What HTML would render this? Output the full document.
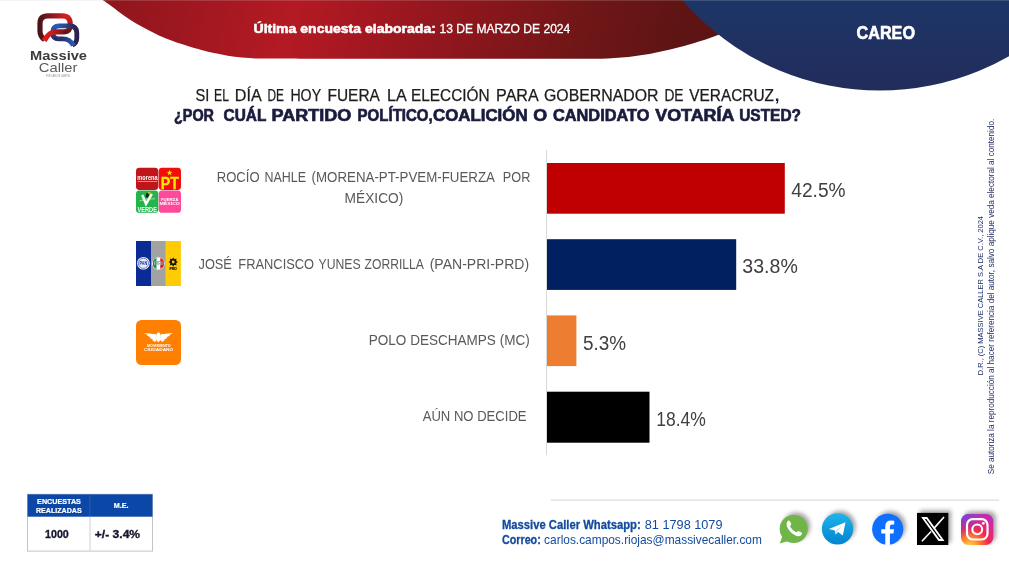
<!DOCTYPE html>
<html lang="es">
<head>
<meta charset="utf-8">
<title>Massive Caller - Careo Veracruz</title>
<style>
html,body{margin:0;padding:0;background:#fff;}
body{width:1009px;height:574px;overflow:hidden;font-family:"Liberation Sans", sans-serif;}
svg{display:block;}
text{font-family:"Liberation Sans", sans-serif;}
.lbl{fill:#595959;font-size:14.3px;}
.val{fill:#404040;font-size:19.6px;}
.ft{fill:#134a9e;font-size:12.6px;}
.vt{fill:#1f2d66;}
</style>
</head>
<body>
<svg width="1009" height="574" viewBox="0 0 1009 574">
<defs>
  <linearGradient id="gred" gradientUnits="userSpaceOnUse" x1="100" y1="-60" x2="760" y2="120">
    <stop offset="0" stop-color="#8c151b"/>
    <stop offset="0.14" stop-color="#9d1720"/>
    <stop offset="0.30" stop-color="#b41a23"/>
    <stop offset="0.43" stop-color="#a01720"/>
    <stop offset="0.64" stop-color="#7d161a"/>
    <stop offset="0.72" stop-color="#6f1617"/>
    <stop offset="0.85" stop-color="#5f1414"/>
    <stop offset="1" stop-color="#521212"/>
  </linearGradient>
  <linearGradient id="gblue" gradientUnits="userSpaceOnUse" x1="0" y1="0" x2="0" y2="91">
    <stop offset="0" stop-color="#1d3667"/>
    <stop offset="1" stop-color="#222c5b"/>
  </linearGradient>
  <linearGradient id="gtg" x1="0" y1="0" x2="0" y2="1">
    <stop offset="0" stop-color="#1fb4ea"/>
    <stop offset="1" stop-color="#0284d0"/>
  </linearGradient>
  <linearGradient id="lgr" gradientUnits="userSpaceOnUse" x1="38" y1="0" x2="72" y2="0">
    <stop offset="0" stop-color="#45121a"/>
    <stop offset="0.4" stop-color="#8a191c"/>
    <stop offset="0.8" stop-color="#d41f1f"/>
    <stop offset="1" stop-color="#d41f1f"/>
  </linearGradient>
  <linearGradient id="lgr3" gradientUnits="userSpaceOnUse" x1="0" y1="16" x2="0" y2="33">
    <stop offset="0" stop-color="#d41f1f"/>
    <stop offset="0.45" stop-color="#b01a1c"/>
    <stop offset="1" stop-color="#5a1416"/>
  </linearGradient>
  <linearGradient id="lgb3" gradientUnits="userSpaceOnUse" x1="0" y1="25" x2="0" y2="40">
    <stop offset="0" stop-color="#2e5cba"/>
    <stop offset="0.5" stop-color="#2b4594"/>
    <stop offset="1" stop-color="#22285a"/>
  </linearGradient>
  <linearGradient id="lgr2" gradientUnits="userSpaceOnUse" x1="44" y1="0" x2="68" y2="0">
    <stop offset="0" stop-color="#e0201c"/>
    <stop offset="0.35" stop-color="#c41c1c"/>
    <stop offset="1" stop-color="#5a1416"/>
  </linearGradient>
  <linearGradient id="lgb" gradientUnits="userSpaceOnUse" x1="51" y1="0" x2="79" y2="0">
    <stop offset="0" stop-color="#2e5cba"/>
    <stop offset="0.45" stop-color="#2c4a9c"/>
    <stop offset="0.85" stop-color="#2b2555"/>
    <stop offset="1" stop-color="#2a2048"/>
  </linearGradient>
  <linearGradient id="lgb2" gradientUnits="userSpaceOnUse" x1="56" y1="0" x2="74" y2="0">
    <stop offset="0" stop-color="#22285a"/>
    <stop offset="0.5" stop-color="#273a80"/>
    <stop offset="1" stop-color="#2e5cba"/>
  </linearGradient>
  <radialGradient id="gig" cx="0.27" cy="1.05" r="1.25">
    <stop offset="0" stop-color="#ffd650"/>
    <stop offset="0.22" stop-color="#ff8c28"/>
    <stop offset="0.48" stop-color="#f2274e"/>
    <stop offset="0.78" stop-color="#d128a4"/>
    <stop offset="1" stop-color="#b52cc0"/>
  </radialGradient>
  <radialGradient id="gig2" cx="0" cy="0" r="0.75">
    <stop offset="0" stop-color="#5a4fe0" stop-opacity="0.95"/>
    <stop offset="1" stop-color="#8a3ad0" stop-opacity="0"/>
  </radialGradient>
  <filter id="sh" x="-30%" y="-30%" width="170%" height="170%">
    <feGaussianBlur stdDeviation="1.9"/>
  </filter>
</defs>

<!-- header shapes -->
<path d="M102.7,0.0 C104.2,1.1 108.4,3.9 111.9,6.5 C115.4,9.1 119.8,12.7 123.8,15.5 C127.8,18.3 131.7,20.8 135.7,23.2 C139.7,25.6 143.6,27.6 147.6,29.7 C151.6,31.8 155.5,33.9 159.5,35.7 C163.5,37.5 167.4,38.9 171.4,40.4 C175.4,41.9 179.4,43.3 183.3,44.6 C187.2,45.9 191.2,47.1 195.1,48.2 C199.0,49.3 203.9,50.6 207.0,51.4 C210.1,52.2 210.4,52.3 213.9,53.0 C217.4,53.7 223.2,55.0 227.8,55.8 C232.4,56.5 237.0,57.1 241.6,57.5 C246.2,57.9 251.8,58.2 255.5,58.4 C259.2,58.6 256.6,58.6 264.0,58.6 C271.4,58.7 277.3,58.7 300.0,58.7 C322.7,58.7 366.7,58.7 400.0,58.7 C433.3,58.7 470.0,58.7 500.0,58.7 C530.0,58.7 564.4,58.7 580.0,58.7 C595.6,58.7 589.3,58.8 593.9,58.7 C598.5,58.7 603.2,58.6 607.8,58.4 C612.4,58.2 617.0,57.9 621.6,57.5 C626.2,57.1 630.9,56.5 635.5,55.9 C640.1,55.3 644.8,54.7 649.4,53.9 C654.0,53.1 658.7,52.1 663.3,51.1 C667.9,50.1 672.5,49.0 677.1,47.8 C681.7,46.6 686.4,45.2 691.0,43.9 C695.6,42.5 700.6,41.1 704.9,39.7 C709.2,38.3 711.7,37.6 716.7,35.6 C721.7,33.6 727.8,31.3 735.0,28.0 C742.2,24.7 750.8,20.7 760.0,16.0 C769.2,11.3 785.0,2.7 790.0,0.0 Z" fill="url(#gred)"/>
<circle cx="879.7" cy="-169.8" r="260.4" fill="url(#gblue)"/>
<rect x="0" y="0" width="1009" height="1" fill="#c8c8c8" fill-opacity="0.2"/>

<text x="253.5" y="32.7" font-size="13.4" fill="#fff" font-weight="bold" stroke="#fff" stroke-width="0.55" textLength="182.4" lengthAdjust="spacingAndGlyphs">Última encuesta elaborada:</text>
<text x="439.5" y="32.7" font-size="13.6" fill="#fff" stroke="#fff" stroke-width="0.3" textLength="130.8" lengthAdjust="spacingAndGlyphs">13 DE MARZO DE 2024</text>
<text x="856.5" y="38.5" font-size="17.5" fill="#fff" font-weight="bold" stroke="#fff" stroke-width="0.6" textLength="58.5" lengthAdjust="spacingAndGlyphs">CAREO</text>

<!-- logo -->
<g fill="none" stroke-linejoin="round" stroke-linecap="butt">
  <path d="M44.500,39.500 C41.500,37.500 40,35.500 40,31 L40,23.500 C40,18.500 42.500,15.800 48,15.800 L62.500,15.800 C65,15.800 66.900,16.500 68.200,17.800" stroke="url(#lgr)" stroke-width="5.2"/>
  <path d="M67.800,17.400 C69.400,18.800 70.200,20.800 70.200,23.500 L70.200,25 C70.200,29 68.500,31.800 64,31.800" stroke="url(#lgr3)" stroke-width="5.2"/>
  <path d="M58.800,38.800 C54.500,38.800 52.800,36.500 52.800,33 L52.800,32 C52.800,28 55,25.800 59.300,25.800" stroke="url(#lgb3)" stroke-width="4.8"/>
  <path d="M59,25.800 L69.500,25.800 C74.500,25.800 76.800,28.500 76.800,33 L76.800,38 C76.800,42 75,43.800 72.300,45" stroke="url(#lgb)" stroke-width="4.8"/>
  <path d="M73.300,45.500 C70.800,40.400 67.500,38.800 63,38.800 L58.500,38.800" stroke="url(#lgb2)" stroke-width="4.8"/>
  <path d="M44.300,40.800 C48,34 51,31.800 57,31.800 L64.200,31.800" stroke="url(#lgr2)" stroke-width="5.2"/>
</g>
<text x="30" y="60.4" font-size="13.2" font-weight="bold" fill="#3c3c3c" textLength="57" lengthAdjust="spacingAndGlyphs">Massive</text>
<text x="38.8" y="72.1" font-size="13.2" fill="#5a5a5a" textLength="38.6" lengthAdjust="spacingAndGlyphs">Caller</text>
<text x="46" y="76.6" font-size="2.6" fill="#8a8a8a" textLength="24" lengthAdjust="spacingAndGlyphs">POR CARLOS CAMPOS</text>

<!-- question -->
<text x="195.6" y="101.2" font-size="15.9" fill="#1c1c1c" stroke="#1c1c1c" stroke-width="0.25" textLength="13.8" lengthAdjust="spacingAndGlyphs">SI</text>
<text x="214.1" y="101.2" font-size="15.9" fill="#1c1c1c" stroke="#1c1c1c" stroke-width="0.25" textLength="14.9" lengthAdjust="spacingAndGlyphs">EL</text>
<text x="234.8" y="101.2" font-size="15.9" fill="#1c1c1c" stroke="#1c1c1c" stroke-width="0.25" textLength="26.9" lengthAdjust="spacingAndGlyphs">DÍA</text>
<text x="267.5" y="101.2" font-size="15.9" fill="#1c1c1c" stroke="#1c1c1c" stroke-width="0.25" textLength="16.5" lengthAdjust="spacingAndGlyphs">DE</text>
<text x="290.4" y="101.2" font-size="15.9" fill="#1c1c1c" stroke="#1c1c1c" stroke-width="0.25" textLength="30.7" lengthAdjust="spacingAndGlyphs">HOY</text>
<text x="327.5" y="101.2" font-size="15.9" fill="#1c1c1c" stroke="#1c1c1c" stroke-width="0.25" textLength="52.4" lengthAdjust="spacingAndGlyphs">FUERA</text>
<text x="387.0" y="101.2" font-size="15.9" fill="#1c1c1c" stroke="#1c1c1c" stroke-width="0.25" textLength="19.8" lengthAdjust="spacingAndGlyphs">LA</text>
<text x="411.0" y="101.2" font-size="15.9" fill="#1c1c1c" stroke="#1c1c1c" stroke-width="0.25" textLength="78.6" lengthAdjust="spacingAndGlyphs">ELECCIÓN</text>
<text x="496.1" y="101.2" font-size="15.9" fill="#1c1c1c" stroke="#1c1c1c" stroke-width="0.25" textLength="42.6" lengthAdjust="spacingAndGlyphs">PARA</text>
<text x="544.0" y="101.2" font-size="15.9" fill="#1c1c1c" stroke="#1c1c1c" stroke-width="0.25" textLength="114.4" lengthAdjust="spacingAndGlyphs">GOBERNADOR</text>
<text x="664.4" y="101.2" font-size="15.9" fill="#1c1c1c" stroke="#1c1c1c" stroke-width="0.25" textLength="19.1" lengthAdjust="spacingAndGlyphs">DE</text>
<text x="689.2" y="101.2" font-size="15.9" fill="#1c1c1c" stroke="#1c1c1c" stroke-width="0.25" textLength="84.8" lengthAdjust="spacingAndGlyphs">VERACRUZ</text>
<text x="774.8" y="101.2" font-size="15.9" font-weight="bold" fill="#1a1c3d" textLength="4.7" lengthAdjust="spacingAndGlyphs">,</text>
<text x="174.0" y="121.3" font-size="15.8" font-weight="bold" fill="#1a1c3d" stroke="#1a1c3d" stroke-width="0.65" textLength="40.0" lengthAdjust="spacingAndGlyphs">¿POR</text>
<text x="223.5" y="121.3" font-size="15.8" font-weight="bold" fill="#1a1c3d" stroke="#1a1c3d" stroke-width="0.65" textLength="42.8" lengthAdjust="spacingAndGlyphs">CUÁL</text>
<text x="271.6" y="121.3" font-size="15.8" font-weight="bold" fill="#1a1c3d" stroke="#1a1c3d" stroke-width="0.65" textLength="79.8" lengthAdjust="spacingAndGlyphs">PARTIDO</text>
<text x="357.6" y="121.3" font-size="15.8" font-weight="bold" fill="#1a1c3d" stroke="#1a1c3d" stroke-width="0.65" textLength="75.1" lengthAdjust="spacingAndGlyphs">POLÍTICO,</text>
<text x="433.0" y="121.3" font-size="15.8" font-weight="bold" fill="#1a1c3d" stroke="#1a1c3d" stroke-width="0.65" textLength="94.6" lengthAdjust="spacingAndGlyphs">COALICIÓN</text>
<text x="533.3" y="121.3" font-size="15.8" font-weight="bold" fill="#1a1c3d" stroke="#1a1c3d" stroke-width="0.65" textLength="13.9" lengthAdjust="spacingAndGlyphs">O</text>
<text x="553.0" y="121.3" font-size="15.8" font-weight="bold" fill="#1a1c3d" stroke="#1a1c3d" stroke-width="0.65" textLength="96.4" lengthAdjust="spacingAndGlyphs">CANDIDATO</text>
<text x="655.2" y="121.3" font-size="15.8" font-weight="bold" fill="#1a1c3d" stroke="#1a1c3d" stroke-width="0.65" textLength="79.3" lengthAdjust="spacingAndGlyphs">VOTARÍA</text>
<text x="739.2" y="121.3" font-size="15.8" font-weight="bold" fill="#1a1c3d" stroke="#1a1c3d" stroke-width="0.65" textLength="61.8" lengthAdjust="spacingAndGlyphs">USTED?</text>

<!-- chart -->
<rect x="546" y="150" width="1" height="305.300" fill="#d9d9d9"/>
<rect x="547" y="163" width="237.800" height="50.700" fill="#c00000"/>
<rect x="547" y="239.200" width="189.200" height="50.700" fill="#002060"/>
<rect x="547" y="315.400" width="29.400" height="50.700" fill="#ed7d31"/>
<rect x="547" y="391.700" width="102.500" height="51" fill="#000000"/>

<text class="val" x="791.3" y="197" textLength="54.3" lengthAdjust="spacingAndGlyphs">42.5%</text>
<text class="val" x="742.3" y="272.6" textLength="55.500" lengthAdjust="spacingAndGlyphs">33.8%</text>
<text class="val" x="582.9" y="349.5" textLength="43.1" lengthAdjust="spacingAndGlyphs">5.3%</text>
<text class="val" x="656.3" y="425.6" textLength="49.6" lengthAdjust="spacingAndGlyphs">18.4%</text>

<text class="lbl" x="216.7" y="182.1" textLength="42.9" lengthAdjust="spacingAndGlyphs">ROCÍO</text>
<text class="lbl" x="264.4" y="182.1" textLength="41.6" lengthAdjust="spacingAndGlyphs">NAHLE</text>
<text class="lbl" x="311.5" y="182.1" textLength="183.5" lengthAdjust="spacingAndGlyphs">(MORENA-PT-PVEM-FUERZA</text>
<text class="lbl" x="502.8" y="182.1" textLength="27.5" lengthAdjust="spacingAndGlyphs">POR</text>
<text class="lbl" x="344.6" y="202.8" textLength="58.7" lengthAdjust="spacingAndGlyphs">MÉXICO)</text>
<text class="lbl" x="198.5" y="269.3" textLength="33.4" lengthAdjust="spacingAndGlyphs">JOSÉ</text>
<text class="lbl" x="238.3" y="269.3" textLength="75.8" lengthAdjust="spacingAndGlyphs">FRANCISCO</text>
<text class="lbl" x="318.5" y="269.3" textLength="42.1" lengthAdjust="spacingAndGlyphs">YUNES</text>
<text class="lbl" x="364.6" y="269.3" textLength="59.3" lengthAdjust="spacingAndGlyphs">ZORRILLA</text>
<text class="lbl" x="429.7" y="269.3" textLength="99.4" lengthAdjust="spacingAndGlyphs">(PAN-PRI-PRD)</text>
<text class="lbl" x="368.8" y="345.1" textLength="160.9" lengthAdjust="spacingAndGlyphs">POLO DESCHAMPS (MC)</text>
<text class="lbl" x="422.7" y="421.4" textLength="103.9" lengthAdjust="spacingAndGlyphs">AÚN NO DECIDE</text>

<!-- party logos: coalition 1 -->
<g>
  <rect x="136" y="167.800" width="22.300" height="22.200" rx="3.400" fill="#bf151b"/>
  <rect x="158.700" y="167.800" width="22.300" height="22.200" rx="3.400" fill="#f20d0d"/>
  <rect x="136" y="190.400" width="22.300" height="22.400" rx="3.400" fill="#21b54c"/>
  <rect x="158.700" y="190.400" width="22.300" height="22.400" rx="3.400" fill="#ff4a9c"/>
  <text x="137.300" y="179.900" font-size="6.8" font-weight="bold" fill="#fff" textLength="20.300" lengthAdjust="spacingAndGlyphs">morena</text>
  <rect x="137.600" y="181.100" width="19.600" height="0.700" fill="#fff" fill-opacity="0.75"/>
  <text x="160.800" y="188.700" font-size="16.4" font-weight="bold" fill="#ffe800" stroke="#ffe800" stroke-width="0.3" textLength="18.200" lengthAdjust="spacingAndGlyphs">PT</text>
  <path d="M169.600,169.900 l0.750,1.850 2,0.150 -1.550,1.300 0.500,1.950 -1.700,-1.050 -1.700,1.050 0.500,-1.950 -1.550,-1.300 2,-0.150z" fill="#ffe800"/>
  <path d="M142.300,195 l3.700,9 5.800,-10.200" fill="none" stroke="#fff" stroke-width="2.500"/>
  <path d="M139.500,200.800 q7,-2.600 15.500,-2" fill="none" stroke="#d6f5a8" stroke-width="0.700"/>
  <ellipse cx="147.300" cy="195.300" rx="1.600" ry="2.600" fill="#17221a" transform="rotate(15 147.300 195.300)"/>
  <path d="M147.600,192.600 l3.600,-0.900 -2.600,2.300z" fill="#ffc800"/>
  <text x="137.500" y="211.900" font-size="7.9" font-weight="bold" fill="#fff" textLength="19.400" lengthAdjust="spacingAndGlyphs">VERDE</text>
  <text x="161" y="200.800" font-size="4.3" font-weight="bold" fill="#fff" textLength="17.300" lengthAdjust="spacingAndGlyphs">FUERZA</text>
  <text x="159.500" y="205" font-size="4.3" font-weight="bold" fill="#fff" textLength="20.400" lengthAdjust="spacingAndGlyphs">MÉXICO</text>
</g>
<!-- coalition 2 -->
<g>
  <rect x="136" y="241" width="15.200" height="45" fill="#0a2a96"/>
  <rect x="151" y="241" width="14.900" height="45" fill="#a2a2a2"/>
  <rect x="165.700" y="241" width="15.200" height="45" fill="#ffcb05"/>
  <circle cx="143.400" cy="263.300" r="6.300" fill="#fff"/>
  <circle cx="143.400" cy="263.300" r="5.100" fill="#e8ecf8" stroke="#0a2a96" stroke-width="0.600"/>
  <text x="139.600" y="265.400" font-size="5.6" font-weight="bold" fill="#0a2a96" textLength="7.600" lengthAdjust="spacingAndGlyphs">PAN</text>
  <circle cx="158.400" cy="263.500" r="6.200" fill="#fff"/>
  <path d="M153,261 a5.700,5.700 0 0 1 3.500,-2.900 v10.800 a5.700,5.700 0 0 1 -3.500,-2.900z" fill="#0a9a48"/>
  <path d="M163.800,261 a5.700,5.700 0 0 0 -3.500,-2.900 v10.800 a5.700,5.700 0 0 0 3.500,-2.900z" fill="#e0121a"/>
  <text x="154" y="265.300" font-size="4.800" font-weight="bold" fill="#f4f4f4" stroke="#555" stroke-width="0.250" textLength="8.800" lengthAdjust="spacingAndGlyphs">PRI</text>
  <g fill="#1a1400">
    <circle cx="173.200" cy="262" r="3.300"/>
    <path d="M173.200,257.200 l1,2 h-2z M173.200,266.800 l1,-2 h-2z M168.400,262 l2,1 v-2z M178,262 l-2,1 v-2z M169.800,258.600 l2.100,0.700 -1.400,1.400z M176.600,258.600 l-2.100,0.700 1.400,1.400z M169.800,265.400 l2.100,-0.700 -1.400,-1.400z M176.600,265.400 l-2.100,-0.700 1.400,-1.400z"/>
  </g>
  <circle cx="173.200" cy="262" r="1.400" fill="#ffcb05"/>
  <text x="169.600" y="269.600" font-size="3.700" font-weight="bold" fill="#1a1400" stroke="#1a1400" stroke-width="0.200" textLength="7.200" lengthAdjust="spacingAndGlyphs">PRD</text>
</g>
<!-- MC -->
<g>
  <rect x="136" y="320" width="45" height="45" rx="5.500" fill="#ff8000"/>
  <g fill="#fff">
    <path d="M143.800,332.900 L156.200,334.300 L157.200,339.600 L155,342 L152.200,340.200 L153,339.500 L149.600,338 L150.500,337.200 L146.800,335.500 L147.900,334.900 Z"/>
    <path d="M173.200,332.900 L160.800,334.300 L159.800,339.600 L162,342 L164.800,340.200 L164,339.500 L167.400,338 L166.500,337.200 L170.200,335.500 L169.100,334.900 Z"/>
    <path d="M156.400,334.800 q0.600,-2.200 1.800,-2.300 q0.900,-0.500 1.200,0.400 q1.200,0.300 0.700,1.300 l0.600,1.300 q0.700,3.400 -1.100,5.600 l-1.200,1.200 -1.200,-1 q-1.600,-2.700 -0.800,-6.500z"/>
  </g>
  <text x="147" y="346.700" font-size="3.100" font-weight="bold" fill="#fff" textLength="23.600" lengthAdjust="spacingAndGlyphs">MOVIMIENTO</text>
  <text x="144" y="351.200" font-size="4.300" font-weight="bold" fill="#fff" textLength="29.300" lengthAdjust="spacingAndGlyphs">CIUDADANO</text>
</g>

<!-- info table -->
<g>
  <rect x="27.500" y="494.300" width="125" height="56.800" fill="#fff" stroke="#c4c4c4" stroke-width="1"/>
  <rect x="27.500" y="494.300" width="125" height="22.400" fill="#0a47a6"/>
  <rect x="89.500" y="494.300" width="1" height="22.400" fill="#2a5cb0"/>
  <rect x="89.500" y="516.700" width="1" height="34.400" fill="#cfcfcf"/>
  <text x="37.100" y="504.100" font-size="7" font-weight="bold" fill="#fff" stroke="#fff" stroke-width="0.2" textLength="43.800" lengthAdjust="spacingAndGlyphs">ENCUESTAS</text>
  <text x="36" y="512.800" font-size="7" font-weight="bold" fill="#fff" stroke="#fff" stroke-width="0.2" textLength="45.700" lengthAdjust="spacingAndGlyphs">REALIZADAS</text>
  <text x="113.700" y="508.100" font-size="7" font-weight="bold" fill="#fff" stroke="#fff" stroke-width="0.2" textLength="14.800" lengthAdjust="spacingAndGlyphs">M.E.</text>
  <text x="45" y="538.100" font-size="11.6" font-weight="bold" fill="#15162e" stroke="#15162e" stroke-width="0.35" textLength="23.800" lengthAdjust="spacingAndGlyphs">1000</text>
  <text x="94.800" y="538.100" font-size="11.6" font-weight="bold" fill="#15162e" stroke="#15162e" stroke-width="0.35" textLength="45.300" lengthAdjust="spacingAndGlyphs">+/- 3.4%</text>
</g>

<!-- footer -->
<rect x="550.800" y="499.600" width="448.200" height="1" fill="#d4d4d4"/>
<text class="ft" x="501.900" y="528.500" font-weight="bold" stroke="#134a9e" stroke-width="0.3" textLength="138.800" lengthAdjust="spacingAndGlyphs">Massive Caller Whatsapp:</text>
<text class="ft" x="644.800" y="528.500" textLength="77.700" lengthAdjust="spacingAndGlyphs">81 1798 1079</text>
<text class="ft" x="501.900" y="543.700" font-weight="bold" stroke="#134a9e" stroke-width="0.3" textLength="38.900" lengthAdjust="spacingAndGlyphs">Correo:</text>
<text class="ft" x="544.100" y="543.700" textLength="217.800" lengthAdjust="spacingAndGlyphs">carlos.campos.riojas@massivecaller.com</text>

<!-- social icons -->
<g>
  <!-- shadows -->
  <g fill="#000" fill-opacity="0.36" filter="url(#sh)">
    <circle cx="796.500" cy="526.300" r="13.700"/>
    <circle cx="840.300" cy="526.200" r="15.300"/>
    <circle cx="890.500" cy="526.600" r="15.300"/>
    <rect x="920" y="510.400" width="31" height="32"/>
    <rect x="964" y="511.300" width="32" height="31" rx="7"/>
  </g>
  <!-- whatsapp -->
  <circle cx="793.700" cy="529" r="14" fill="#6fb548"/>
  <path d="M779.700,543.600 l3.300,-8.800 6.300,5.900z" fill="#6fb548"/>
  <path transform="translate(-1.100,0.200)" d="M788.600,521.100 q1.400,-1.400 2.200,-0.200 l1.500,2.500 q0.400,0.900 -0.500,1.600 q-0.900,0.800 -0.300,1.800 q2,3.300 5.300,5.100 q0.900,0.500 1.600,-0.400 q0.800,-1 1.700,-0.500 l2.500,1.400 q1.100,0.800 0,2.100 q-2,2.300 -5,1.200 q-7,-2.700 -9.800,-9.900 q-0.800,-2.700 0.800,-4.700z" fill="#fff"/>
  <!-- telegram -->
  <circle cx="837.500" cy="528.900" r="15.600" fill="url(#gtg)"/>
  <path d="M828.900,528.900 l16.600,-6.700 -2.700,13.400 -4.700,-3.500 -2.600,2.500 -0.300,-3.600 -1.200,-0.800z" fill="#fff"/>
  <path d="M835.200,531 l7.600,-6 -5.800,6.700 -1.500,2.900z" fill="#c9e3f3"/>
  <!-- facebook -->
  <circle cx="887.700" cy="529.300" r="15.600" fill="#0f6fff"/>
  <path d="M885.300,545 v-11.500 h-4 v-4.300 h4 v-3.100 q0,-5.600 5.800,-5.600 q1.700,0 3.100,0.300 v3.800 h-2 q-2.300,0 -2.300,2.100 v2.500 h4.200 l-0.700,4.300 h-3.500 v11.500z" fill="#fff"/>
  <!-- X -->
  <rect x="917" y="512.900" width="31.300" height="32.100" fill="#000"/>
  <path d="M921.200,517 h6 l17.300,24 h-6z M926.300,519 h-1.500 l14.600,20 h1.500z" fill="#fff" fill-rule="evenodd"/>
  <path d="M944,517 l-9.600,10.900 M931.100,531.500 l-9.200,9.700" stroke="#fff" stroke-width="1.600" fill="none"/>
  <!-- instagram -->
  <rect x="961" y="514" width="32.300" height="31" rx="7.500" fill="url(#gig)"/>
  <rect x="961" y="514" width="32.300" height="31" rx="7.500" fill="url(#gig2)"/>
  <rect x="967" y="519.200" width="20.500" height="20.300" rx="5.800" fill="none" stroke="#fff" stroke-width="2.200"/>
  <circle cx="977.250" cy="529.350" r="4.900" fill="none" stroke="#fff" stroke-width="2.100"/>
  <circle cx="983.300" cy="523.300" r="1.400" fill="#fff"/>
</g>

<!-- vertical legal text -->
<text class="vt" font-size="7.9" transform="translate(982.900,375.300) rotate(-90)" textLength="159.300" lengthAdjust="spacingAndGlyphs">D.R., (C) MASSIVE CALLER S.A DE C.V., 2024</text>
<text class="vt" font-size="8.2" transform="translate(993.600,474.300) rotate(-90)" textLength="355.500" lengthAdjust="spacingAndGlyphs">Se autoriza la reproducción al hacer referencia del autor, salvo aplique veda electoral al contenido.</text>
</svg>
</body>
</html>
